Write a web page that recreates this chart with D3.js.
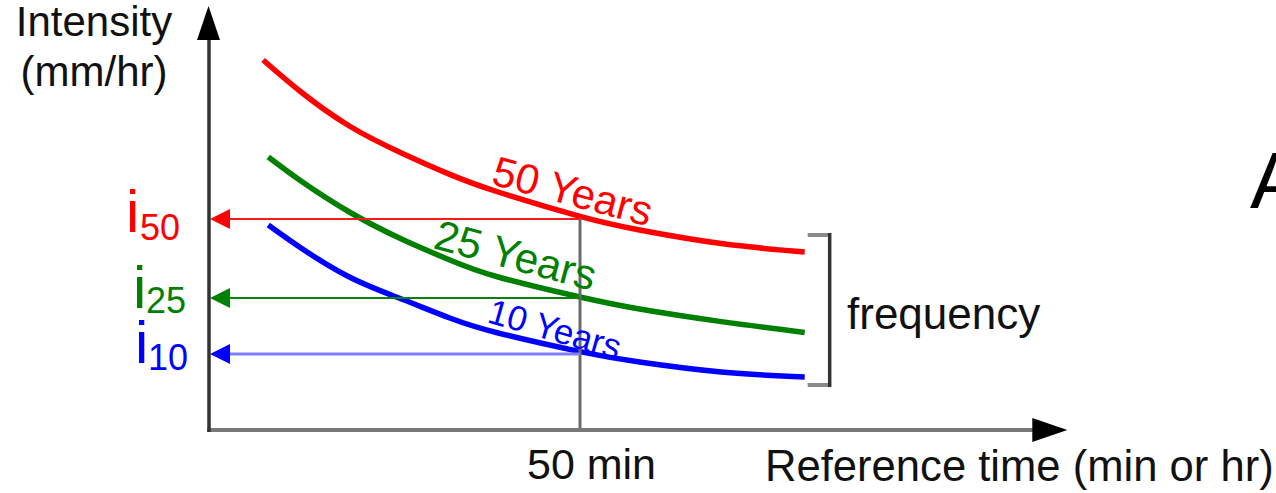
<!DOCTYPE html>
<html><head><meta charset="utf-8">
<script src="https://cdn.jsdelivr.net/npm/d3@7"></script>
<style>
body{margin:0;background:#fff}
svg{display:block}
text{font-family:"Liberation Sans",Arial,sans-serif}
</style>
</head><body>
<svg id="c" width="1276" height="493"></svg>
<script>
// ---- data ----
const returnPeriods = ["50", "25", "10"];
const curveLabels = ["50 Years", "25 Years", "10 Years"];
const timesRed = [7.4, 12.5, 19, 26, 32.5, 39, 50, 58, 69, 80.2];
const timesOther = [8.1, 12.5, 19, 26, 32.5, 39, 50, 58, 69, 80.2];
const intensity50 = [92.5, 84.5, 76.0, 69.25, 63.9, 59.5, 53.4, 50.0, 46.6, 44.5];
const intensity25 = [68.25, 62.25, 54.5, 47.75, 42.5, 38.25, 33.25, 30.25, 27.1, 24.4];
const intensity10 = [51.25, 45.5, 38.25, 32.75, 28.0, 24.25, 19.6, 17.0, 14.5, 13.25];
const refTime = 50;
const refIntensity = [52.75, 33, 19];
const refTickLabel = "50 min";
const xAxisTitle = "Reference time (min or hr)";
const yAxisTitle = ["Intensity", "(mm/hr)"];
const bracketLabel = "frequency";
const xMax = 115.5;
const yMax = 106;

// ---- styles / layout ----
const colors = ["#ff0000", "#008000", "#0000ff"];
const arrowLineColors = ["#ff1a1a", "#0a820a", "#8080ff"];
const FS = 43;

const svg = d3.select("#c");
const x = d3.scaleLinear().domain([0, 50]).range([208, 580]);
const y = d3.scaleLinear().domain([0, 100]).range([430, 30]);

const series = [
  {times: timesRed, vals: intensity50},
  {times: timesOther, vals: intensity25},
  {times: timesOther, vals: intensity10}
];

// curves
const line = d3.line().x(d => x(d[0])).y(d => y(d[1])).curve(d3.curveNatural);
series.forEach((s, k) => {
  svg.append("path")
    .datum(d3.zip(s.times, s.vals))
    .attr("d", line)
    .attr("fill", "none")
    .attr("stroke", colors[k])
    .attr("stroke-width", 5.5)
    .attr("stroke-linecap", "butt");
});

// reference vertical line
svg.append("line")
  .attr("x1", x(refTime)).attr("x2", x(refTime))
  .attr("y1", y(0)).attr("y2", y(refIntensity[0]) - 1)
  .attr("stroke", "#6a6a6a").attr("stroke-width", 3);

// horizontal arrows to y axis
const headLen = 20, headHalf = 10;
refIntensity.forEach((v, k) => {
  const yy = y(v);
  const tipX = x(0) + 2;
  svg.append("line")
    .attr("x1", tipX + headLen - 2).attr("x2", x(refTime))
    .attr("y1", yy).attr("y2", yy)
    .attr("stroke", arrowLineColors[k])
    .attr("stroke-width", k === 2 ? 3 : 2.2);
  svg.append("path")
    .attr("d", `M${tipX},${yy} L${tipX + headLen},${yy - headHalf} L${tipX + headLen},${yy + headHalf} Z`)
    .attr("fill", colors[k]);
});

// x axis (line + arrow)
const axisY = y(0);
svg.append("line")
  .attr("x1", x(0) - 1).attr("x2", x(xMax) - 34)
  .attr("y1", axisY).attr("y2", axisY)
  .attr("stroke", "#787878").attr("stroke-width", 4);
svg.append("path")
  .attr("d", `M${x(xMax)},${axisY} L${x(xMax) - 35},${axisY - 12} L${x(xMax) - 35},${axisY + 12} Z`)
  .attr("fill", "#000");

// y axis (line + arrow)
svg.append("line")
  .attr("x1", x(0) + 1).attr("x2", x(0) + 1)
  .attr("y1", axisY + 2).attr("y2", y(yMax) + 33)
  .attr("stroke", "#333").attr("stroke-width", 3.5);
svg.append("path")
  .attr("d", `M${x(0) + 0.5},${y(yMax)} L${x(0) - 11},${y(yMax) + 34} L${x(0) + 12},${y(yMax) + 34} Z`)
  .attr("fill", "#000");

// x tick label via d3 axis
const xAxis = d3.axisBottom(x).tickValues([refTime]).tickFormat(() => refTickLabel).tickSize(0).tickPadding(0);
const gx = svg.append("g").attr("transform", `translate(0,${axisY})`).call(xAxis);
gx.select(".domain").remove();
gx.selectAll("text")
  .attr("font-size", FS).attr("fill", "#111")
  .attr("font-family", "Liberation Sans, Arial, sans-serif")
  .attr("dy", null).attr("y", 49).attr("dx", 11);

// axis titles
svg.append("text").attr("x", 765).attr("y", 481)
  .attr("font-size", 43.6).attr("fill", "#111").text(xAxisTitle);
svg.append("text").attr("x", 94).attr("y", 36).attr("text-anchor", "middle")
  .attr("font-size", 42).attr("fill", "#111").text(yAxisTitle[0]);
svg.append("text").attr("x", 94).attr("y", 86).attr("text-anchor", "middle")
  .attr("font-size", 42).attr("fill", "#111").text(yAxisTitle[1]);

// i labels with subscripts
const iLabelPos = [[126, 13, 140, 21], [133, 10, 146, 15], [135, 9, 148, 16]];
returnPeriods.forEach((rp, k) => {
  const yy = y(refIntensity[k]);
  const p = iLabelPos[k];
  svg.append("text").attr("x", p[0]).attr("y", yy + p[1])
    .attr("font-size", 60).attr("fill", colors[k]).text("i");
  svg.append("text").attr("x", p[2]).attr("y", yy + p[3])
    .attr("font-size", 36).attr("fill", colors[k]).text(rp);
});

// rotated curve labels
const curveLabelPos = [[490, 184, 15, 42], [432, 248, 15, 42.5], [486, 322, 16, 35]];
curveLabels.forEach((t, k) => {
  const p = curveLabelPos[k];
  svg.append("text")
    .attr("transform", `translate(${p[0]},${p[1]}) rotate(${p[2]})`)
    .attr("font-size", p[3]).attr("fill", colors[k]).text(t);
});

// frequency bracket
const bx = x(timesOther[timesOther.length - 1]) + 25;
const bTop = y(intensity50[intensity50.length - 1]) - 17;
const bBot = y(intensity10[intensity10.length - 1]) + 8;
svg.append("path")
  .attr("d", `M${bx - 22},${bTop} H${bx - 1} M${bx - 22},${bBot} H${bx - 1}`)
  .attr("fill", "none").attr("stroke", "#8a8a8a").attr("stroke-width", 4);
svg.append("line")
  .attr("x1", bx).attr("x2", bx).attr("y1", bTop - 2).attr("y2", bBot + 2)
  .attr("stroke", "#333").attr("stroke-width", 3.5);
svg.append("text").attr("x", 847).attr("y", 329)
  .attr("font-size", 44).attr("fill", "#111").text(bracketLabel);

// partially visible letter at right edge
svg.append("text").attr("x", 1250).attr("y", 208)
  .attr("font-size", 80).attr("fill", "#000").text("A");
</script>
</body></html>
